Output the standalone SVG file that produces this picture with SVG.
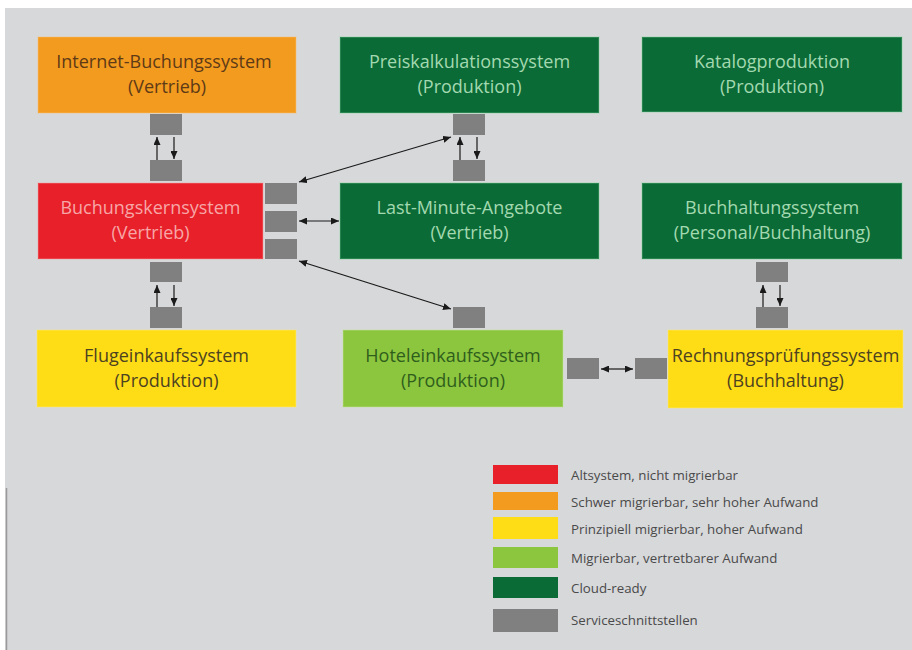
<svg xmlns="http://www.w3.org/2000/svg" width="912" height="650" viewBox="0 0 912 650">
<defs>
<marker id="ah" viewBox="0 0 8 7" refX="8" refY="3.5" markerWidth="8" markerHeight="7" markerUnits="userSpaceOnUse" orient="auto-start-reverse">
<path d="M0,0 L8,3.5 L0,7 z" fill="#1a1a1a"/>
</marker>
<style>
.box{stroke-width:1.5;stroke-opacity:0.35}
.t{font-family:"Open Sans","Liberation Sans",sans-serif;font-size:18px;text-anchor:middle}
.lg{font-family:"Open Sans","Liberation Sans",sans-serif;font-size:13.3px;fill:#4a4a4a}
.si{fill:#808080}
.ar{stroke:#1a1a1a;stroke-width:1.2;fill:none;marker-end:url(#ah)}
.da{stroke:#1a1a1a;stroke-width:1.2;fill:none;marker-end:url(#ah);marker-start:url(#ah)}
.orange{fill:#f39b1f;stroke:#f8c070}
.dgreen{fill:#0b6b36;stroke:#7fd09a}
.red{fill:#e8202a;stroke:#f7a0a0}
.yellow{fill:#fedd17;stroke:#fbea80}
.lgreen{fill:#8cc63f;stroke:#c4e59a}
</style>
</defs>
<rect x="0" y="0" width="912" height="650" fill="#ffffff"/>
<rect x="5" y="8" width="907" height="642" fill="#d7d8da"/>
<line x1="6.5" y1="488" x2="6.5" y2="650" stroke="#9a9a9a" stroke-width="1.5"/>

<g id="internet">
<rect class="box orange" x="38" y="37" width="258" height="76"/>
<text class="t" fill="#5e3a16" x="164" y="68">Internet-Buchungssystem</text>
<text class="t" fill="#5e3a16" x="167" y="93">(Vertrieb)</text>
</g>
<g id="preiskalkulation">
<rect class="box dgreen" x="340" y="37" width="259" height="76"/>
<text class="t" fill="#a3d9b0" x="469.5" y="68">Preiskalkulationssystem</text>
<text class="t" fill="#a3d9b0" x="469.5" y="93">(Produktion)</text>
</g>
<g id="katalog">
<rect class="box dgreen" x="642" y="37" width="260" height="75"/>
<text class="t" fill="#a3d9b0" x="772" y="68">Katalogproduktion</text>
<text class="t" fill="#a3d9b0" x="772" y="93">(Produktion)</text>
</g>
<g id="buchungskern">
<rect class="box red" x="38" y="183" width="225" height="76"/>
<text class="t" fill="#f7a6a6" x="150.5" y="214">Buchungskernsystem</text>
<text class="t" fill="#f7a6a6" x="150.5" y="239">(Vertrieb)</text>
</g>
<g id="lastminute">
<rect class="box dgreen" x="340" y="183" width="259" height="76"/>
<text class="t" fill="#a3d9b0" x="469.5" y="214">Last-Minute-Angebote</text>
<text class="t" fill="#a3d9b0" x="469.5" y="239">(Vertrieb)</text>
</g>
<g id="buchhaltung">
<rect class="box dgreen" x="642" y="183" width="260" height="76"/>
<text class="t" fill="#a3d9b0" x="772" y="214">Buchhaltungssystem</text>
<text class="t" fill="#a3d9b0" x="772" y="239">(Personal/Buchhaltung)</text>
</g>
<g id="flugeinkauf">
<rect class="box yellow" x="37" y="330" width="259" height="77"/>
<text class="t" fill="#4d4220" x="166.5" y="362">Flugeinkaufssystem</text>
<text class="t" fill="#4d4220" x="166.5" y="387">(Produktion)</text>
</g>
<g id="hoteleinkauf">
<rect class="box lgreen" x="343" y="330" width="220" height="77"/>
<text class="t" fill="#2f5e1c" x="453" y="362">Hoteleinkaufssystem</text>
<text class="t" fill="#2f5e1c" x="453" y="387">(Produktion)</text>
</g>
<g id="rechnungspruefung">
<rect class="box yellow" x="668" y="330" width="235" height="78"/>
<text class="t" fill="#4d4220" x="785.5" y="362">Rechnungsprüfungssystem</text>
<text class="t" fill="#4d4220" x="785.5" y="387">(Buchhaltung)</text>
</g>

<g id="schnittstellen">
<rect class="si" x="150" y="114" width="32" height="21"/>
<rect class="si" x="150" y="160" width="32" height="21"/>
<rect class="si" x="265" y="183" width="32" height="21"/>
<rect class="si" x="265" y="211" width="32" height="21"/>
<rect class="si" x="265" y="239" width="32" height="20"/>
<rect class="si" x="150" y="262" width="32" height="20"/>
<rect class="si" x="150" y="307" width="32" height="21"/>
<rect class="si" x="453" y="114" width="32" height="21"/>
<rect class="si" x="453" y="160" width="32" height="21"/>
<rect class="si" x="453" y="307" width="32" height="21"/>
<rect class="si" x="567" y="358" width="32" height="21"/>
<rect class="si" x="635" y="358" width="32" height="21"/>
<rect class="si" x="756" y="262" width="32" height="20"/>
<rect class="si" x="756" y="307" width="32" height="21"/>
</g>

<g id="connectors">
<line class="ar" x1="157" y1="160" x2="157" y2="137"/>
<line class="ar" x1="174" y1="137" x2="174" y2="159"/>
<line class="ar" x1="157" y1="307" x2="157" y2="285"/>
<line class="ar" x1="174" y1="285" x2="174" y2="306"/>
<line class="ar" x1="460" y1="160" x2="460" y2="137"/>
<line class="ar" x1="477" y1="137" x2="477" y2="159"/>
<line class="ar" x1="763" y1="307" x2="763" y2="285"/>
<line class="ar" x1="780" y1="285" x2="780" y2="306"/>
<line class="da" x1="299" y1="182" x2="451" y2="137"/>
<line class="da" x1="299" y1="221" x2="339" y2="221"/>
<line class="da" x1="299" y1="261" x2="451" y2="309"/>
<line class="da" x1="601" y1="369" x2="633" y2="369"/>
</g>

<g id="legende">
<rect x="493" y="465" width="65" height="19" fill="#e8202a"/>
<rect x="493" y="492" width="65" height="18" fill="#f39b1f"/>
<rect x="493" y="517" width="65" height="22" fill="#fedd17"/>
<rect x="493" y="547" width="65" height="21" fill="#8cc63f"/>
<rect x="493" y="577" width="65" height="21" fill="#0b6b36"/>
<rect x="493" y="609" width="65" height="23" fill="#808080"/>
<text class="lg" x="571" y="480">Altsystem, nicht migrierbar</text>
<text class="lg" x="571" y="507">Schwer migrierbar, sehr hoher Aufwand</text>
<text class="lg" x="571" y="534">Prinzipiell migrierbar, hoher Aufwand</text>
<text class="lg" x="571" y="563">Migrierbar, vertretbarer Aufwand</text>
<text class="lg" x="571" y="593">Cloud-ready</text>
<text class="lg" x="571" y="625">Serviceschnittstellen</text>
</g>
</svg>
